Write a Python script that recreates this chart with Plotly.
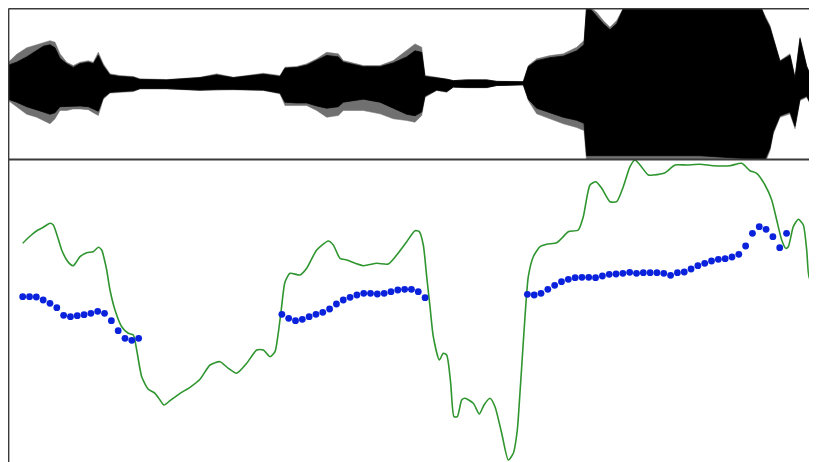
import plotly.graph_objects as go

# ---------------- waveform envelope (top panel), amplitude units ----------------
wave_t = [8.3, 16.7, 26.7, 36.7, 43.3, 50, 55, 60, 66.7, 73.3, 80, 88.3, 93.3, 98.3, 103.3,
          110, 120, 133.3, 140, 166.7, 200, 216.7, 233.3, 263.3, 280, 285, 296.7, 306.7,
          316.7, 326.7, 338.3, 343.3, 363.3, 380, 393.3, 406.7, 415, 421.7, 425, 436.7,
          446.7, 453.3, 466.7, 486.7, 496.7, 523.3, 528.3, 536.7, 550, 563.3, 576.7, 584,
          586.7, 596.7, 603.3, 610, 616.7, 621.7, 625, 700, 760, 765, 770, 773.3, 780, 790,
          795, 800, 806.7, 811.7, 816.7]
wave_upper = [0.289, 0.395, 0.480, 0.520, 0.545, 0.575, 0.555, 0.400, 0.289, 0.245, 0.289,
              0.310, 0.289, 0.421, 0.268, 0.135, 0.113, 0.100, 0.070, 0.060, 0.090, 0.135,
              0.090, 0.143, 0.113, 0.223, 0.232, 0.268, 0.334, 0.421, 0.400, 0.311, 0.245,
              0.245, 0.311, 0.444, 0.532, 0.487, 0.113, 0.090, 0.069, 0.046, 0.056, 0.056,
              0.037, 0.033, 0.245, 0.334, 0.377, 0.400, 0.487, 0.576, 1.05, 0.951, 0.841,
              0.752, 0.841, 0.974, 1.05, 1.05, 1.05, 0.907, 0.775, 0.620, 0.311, 0.400,
              0.090, 0.620, 0.245, 0.090, 0.046]
wave_lower = [-0.219, -0.300, -0.400, -0.440, -0.483, -0.527, -0.460, -0.350, -0.350, -0.330,
              -0.330, -0.340, -0.380, -0.417, -0.200, -0.120, -0.109, -0.100, -0.064, -0.064,
              -0.086, -0.077, -0.077, -0.086, -0.130, -0.285, -0.285, -0.285, -0.351, -0.440,
              -0.417, -0.351, -0.351, -0.395, -0.461, -0.483, -0.506, -0.417, -0.175, -0.086,
              -0.109, -0.042, -0.050, -0.050, -0.020, -0.011, -0.219, -0.395, -0.461, -0.527,
              -0.576, -0.616, -1.05, -1.05, -1.05, -1.05, -1.05, -1.05, -1.05, -1.05, -1.05,
              -1.05, -0.88, -0.660, -0.440, -0.395, -0.593, -0.219, -0.175, -0.307, -0.086]
core_upper = [0.25, 0.29, 0.36, 0.45, 0.50, 0.52, 0.48, 0.34, 0.27, 0.22, 0.27, 0.29, 0.27,
              0.38, 0.24, 0.12, 0.10, 0.09, 0.06, 0.055, 0.085, 0.12, 0.085, 0.13, 0.10, 0.21,
              0.22, 0.25, 0.31, 0.38, 0.36, 0.29, 0.23, 0.23, 0.28, 0.36, 0.44, 0.42, 0.10,
              0.085, 0.065, 0.045, 0.055, 0.055, 0.035, 0.03, 0.23, 0.31, 0.35, 0.37, 0.44,
              0.52, 1.05, 0.90, 0.80, 0.72, 0.80, 0.95, 1.05, 1.05, 1.05, 0.88, 0.75, 0.60,
              0.30, 0.38, 0.08, 0.60, 0.23, 0.08, 0.04]
core_lower = [-0.20, -0.24, -0.30, -0.34, -0.37, -0.40, -0.38, -0.30, -0.30, -0.29, -0.29,
              -0.30, -0.33, -0.36, -0.18, -0.11, -0.10, -0.09, -0.06, -0.06, -0.08, -0.07,
              -0.07, -0.08, -0.12, -0.24, -0.25, -0.25, -0.29, -0.32, -0.30, -0.24, -0.20,
              -0.24, -0.32, -0.40, -0.42, -0.37, -0.16, -0.08, -0.10, -0.04, -0.045, -0.045,
              -0.02, -0.01, -0.20, -0.32, -0.38, -0.44, -0.48, -0.52, -0.95, -0.95, -0.95,
              -0.95, -0.95, -0.95, -0.95, -0.95, -1.0, -1.0, -0.85, -0.63, -0.42, -0.37,
              -0.56, -0.20, -0.16, -0.29, -0.08]

# ---------------- intensity contour (green line) ----------------
inten_t = [22.7, 28, 33.3, 38, 43.3, 50, 53.3, 57, 61.7, 66.7, 70, 73.3, 77, 80, 86.7, 93.3,
           98.3, 101.7, 104, 106.7, 110, 115, 121.7, 128.3, 133.3, 136.7, 141.7, 148.3, 155,
           160, 164, 170, 180, 190, 200, 210, 220, 228.3, 236.7, 246.7, 256.7, 263.3, 270,
           275, 278, 281, 285, 290, 300, 306.7, 316.7, 328.3, 333.3, 340, 346.7, 363.3,
           376.7, 388.3, 396.7, 406.7, 415, 419.3, 423.3, 426.7, 430, 433.3, 439.3, 443.3,
           446.7, 450.7, 454, 457.3, 461.7, 465, 473.3, 479.3, 484, 490, 495, 501.7, 508.3,
           513.3, 517.3, 519.5, 521.7, 525, 528.3, 533.3, 540, 546.7, 556.7, 562, 568.3,
           578.3, 583.3, 590, 596, 601.7, 610, 616.7, 623.3, 630, 635, 640, 648.3, 653.3,
           665, 675, 686.7, 700, 713.3, 730, 741.7, 750, 756.7, 765, 771.7, 776.7, 781.7,
           785.7, 788.3, 793.3, 798.3, 803.3, 806.7, 809.3, 813.3]
inten_v = [218.7, 224, 228.7, 232, 234.7, 238.7, 237, 227, 212, 202, 198, 196.3, 201, 205.3,
           209.3, 210.3, 214.7, 212, 204, 192, 172, 152, 135.3, 128.7, 127, 112, 85.3, 72.7,
           68.7, 62, 57, 61.3, 68.7, 74.7, 82.7, 97, 100.3, 93.7, 88.7, 98.7, 112, 112, 105.3,
           110.3, 127, 150, 180, 188.7, 187, 193.7, 212, 221, 217, 203.7, 202, 196.3, 198.7,
           198, 207, 220.3, 231.3, 230.3, 217, 185.3, 155.3, 125.3, 102, 108.7, 107, 78.7,
           45.3, 45.3, 62, 63.7, 58.7, 48, 57, 63.7, 55.3, 28.7, 2, 8.7, 32, 62, 95.3, 145.3,
           185.3, 205.3, 215.3, 217.7, 219.3, 224, 230.3, 232, 245.3, 277, 280.3, 273.7,
           260.3, 260.3, 275.3, 295.3, 302, 297, 287, 287, 289.3, 297, 297, 297.7, 296.3,
           296.3, 298.7, 291.3, 288.7, 277, 262, 242, 222, 213.7, 215.3, 235.3, 242.7, 237,
           212, 183.7, 189.3]

# ---------------- pitch contour (blue dots), one value per analysis frame ----------------
frame_t0 = 22.7
frame_dt = 6.82
pitch_seg1 = [165.3, 165.3, 165, 162, 158.7, 154.3, 146.7, 145.3, 146.3, 147.3, 148.7, 150.7,
              148.7, 141.3, 131.3, 123.7, 121.7, 123.7]
pitch_seg2 = [147.7, 143.7, 141.3, 142.7, 145.3, 147.7, 149.7, 153, 158, 162, 164.7, 167,
              168.7, 168.7, 168, 168.7, 170.3, 172, 172.7, 172.7, 170.3, 164.3]
pitch_seg3 = [167.7, 167, 168.7, 172.7, 176.7, 180.3, 182.7, 184.3, 184.7, 184.7, 184.3, 186,
              187.7, 188, 188.7, 189.7, 188.7, 189.3, 189.3, 189.3, 188.7, 186.7, 189.3, 190,
              193, 196.3, 198.7, 201, 202.7, 203.3, 205, 207.7, 216, 228.7, 235.3, 232.7,
              225.3, 214.3, 228.7]
pitch = pitch_seg1 + [None] * 20 + pitch_seg2 + [None] * 14 + pitch_seg3
pitch_t = [frame_t0 + i * frame_dt for i in range(len(pitch))]

# The page body adds an 8px margin, so the figure itself starts at page (8, 8).
PAGE_W, PAGE_H, BODY = 817, 462, 8
W, H = PAGE_W - BODY, PAGE_H - BODY
edge = 0.6            # border line position inside the figure (px)
div_px = 151.5        # divider position inside the figure (px)
x_dom = [edge / W, 1]
top_dom = [1 - div_px / H, 1 - edge / H]
bot_dom = [0, 1 - div_px / H]
t_start = BODY + edge   # time value at the left frame edge
t_end = PAGE_W

fig = go.Figure()

# outer (grey) waveform envelope
fig.add_trace(go.Scatter(
    x=wave_t + wave_t[::-1], y=wave_upper + wave_lower[::-1],
    fill="toself", fillcolor="#707070", line=dict(color="#707070", width=0.5),
    mode="lines", xaxis="x2", yaxis="y2", hoverinfo="skip", showlegend=False))
# dense (black) waveform core
fig.add_trace(go.Scatter(
    x=wave_t + wave_t[::-1], y=core_upper + core_lower[::-1],
    fill="toself", fillcolor="#000000", line=dict(color="#000000", width=0.8),
    mode="lines", xaxis="x2", yaxis="y2", hoverinfo="skip", showlegend=False))

fig.add_trace(go.Scatter(
    x=inten_t, y=inten_v, mode="lines",
    line=dict(color="#2f952f", width=1.6, shape="spline", smoothing=0.6),
    xaxis="x", yaxis="y", showlegend=False))
fig.add_trace(go.Scatter(
    x=pitch_t, y=pitch, mode="markers",
    marker=dict(color="#0a22dc", size=6.8, line=dict(width=0)),
    xaxis="x", yaxis="y", showlegend=False))

ax = dict(showgrid=False, zeroline=False, showticklabels=False, ticks="", showline=False)
fig.update_layout(
    width=W, height=H, margin=dict(l=0, r=0, t=0, b=0),
    paper_bgcolor="white", plot_bgcolor="white",
    xaxis=dict(domain=x_dom, range=[t_start, t_end], anchor="y", **ax),
    yaxis=dict(domain=bot_dom, range=[0, PAGE_H - (BODY + div_px)], anchor="x", **ax),
    xaxis2=dict(domain=x_dom, range=[t_start, t_end], anchor="y2", **ax),
    yaxis2=dict(domain=top_dom, range=[-1, 1], anchor="x2", **ax),
    shapes=[
        dict(type="line", xref="paper", yref="paper", x0=x_dom[0], x1=1,
             y0=top_dom[1], y1=top_dom[1], line=dict(color="#3a3a3a", width=1.6)),
        dict(type="line", xref="paper", yref="paper", x0=x_dom[0], x1=1,
             y0=top_dom[0], y1=top_dom[0], line=dict(color="#3a3a3a", width=1.8)),
        dict(type="line", xref="paper", yref="paper", x0=x_dom[0], x1=x_dom[0],
             y0=0, y1=top_dom[1], line=dict(color="#3a3a3a", width=1.6)),
    ],
)

fig.write_html("out.html")
